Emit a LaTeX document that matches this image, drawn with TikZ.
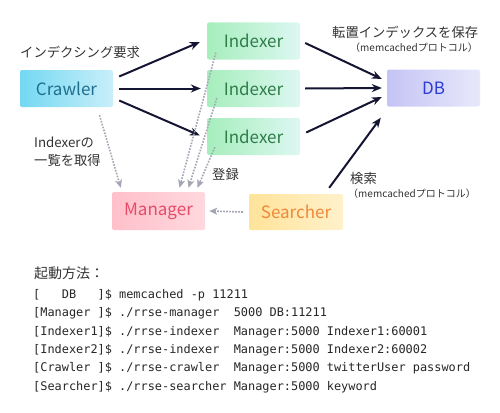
\documentclass[tikz,border=0pt]{standalone}
\usepackage{fontspec}
\setmainfont{Noto Sans CJK JP}
\setmonofont{DejaVu Sans Mono}
\usetikzlibrary{arrows.meta,calc}
\definecolor{arrowdark}{HTML}{141433}
\definecolor{dotgray}{HTML}{A4A6B4}
\definecolor{crL}{HTML}{74D8F2}\definecolor{crR}{HTML}{C8EFF9}\definecolor{crT}{HTML}{1F6F8F}
\definecolor{ixL}{HTML}{A6EEBC}\definecolor{ixR}{HTML}{DDF7F2}\definecolor{ixT}{HTML}{2E7D4A}
\definecolor{dbL}{HTML}{C4C4F6}\definecolor{dbR}{HTML}{E8E8FB}\definecolor{dbT}{HTML}{2B3BD9}
\definecolor{mgL}{HTML}{FFC0CA}\definecolor{mgR}{HTML}{FFD8DE}\definecolor{mgT}{HTML}{E84A67}
\definecolor{seL}{HTML}{FFE39A}\definecolor{seR}{HTML}{FFF1CB}\definecolor{seT}{HTML}{F0883A}
\tikzset{
  box/.style={minimum width=93pt,minimum height=37pt,rounded corners=2pt,inner sep=0pt,font=\fontsize{17}{17}\selectfont},
  crawlerbox/.style={box,left color=crL,right color=crR,text=crT},
  indexerbox/.style={box,left color=ixL,right color=ixR,text=ixT},
  dbbox/.style={box,left color=dbL,right color=dbR,text=dbT},
  managerbox/.style={box,left color=mgL,right color=mgR,text=mgT},
  searcherbox/.style={box,left color=seL,right color=seR,text=seT},
  arr/.style={draw=arrowdark,line width=2pt,-{Stealth[length=10pt,width=8pt]}},
  dotarr/.style={draw=dotgray,line width=1.6pt,dash pattern=on 1.6pt off 1.4pt,-{Stealth[length=8pt,width=7pt,inset=2pt]}},
  lbl/.style={inner sep=0pt,anchor=west,font=\fontsize{13.3}{13.3}\selectfont,text=black!80},
  sublbl/.style={inner sep=0pt,anchor=west,font=\fontsize{10}{10}\selectfont,text=black!80},
  code/.style={inner sep=0pt,anchor=west,font=\ttfamily\fontsize{11.9}{11.9}\selectfont,text=black!85},
}
\begin{document}
\begin{tikzpicture}[x=1pt,y=-1pt]
\useasboundingbox (0,0) rectangle (500,412);
% boxes
\node[crawlerbox] (crawler) at (66.5,88.5) {Crawler};
\node[indexerbox] (idx1) at (253.5,41) {Indexer};
\node[indexerbox] (idx2) at (253.5,88.5) {Indexer};
\node[indexerbox] (idx3) at (253.5,136.5) {Indexer};
\node[dbbox] (db) at (433.5,88) {DB};
\node[managerbox,minimum height=38pt] (mgr) at (158.5,211) {Manager};
\node[searcherbox,minimum width=94pt,minimum height=36pt] (srch) at (296,212) {Searcher};
% solid arrows
\draw[arr] ($(crawler.east)+(6,-12)$) -- ($(idx1.west)+(-7,1)$);
\draw[arr] ($(crawler.east)+(6,0)$) -- ($(idx2.west)+(-6,0)$);
\draw[arr] ($(crawler.east)+(6,12)$) -- ($(idx3.west)+(-7,-1)$);
\draw[arr] ($(idx1.east)+(5,2)$) -- ($(db.west)+(-5,-9)$);
\draw[arr] ($(idx2.east)+(5,0)$) -- ($(db.west)+(-5,0)$);
\draw[arr] ($(idx3.east)+(6,-4)$) -- ($(db.west)+(-5,9)$);
\draw[arr] ($(srch.north east)+(-14,-6)$) -- ($(db.south west)+(-6,11)$);
% dotted arrows
\draw[dotarr] ($(crawler.south)+(33,8)$) -- ($(mgr.north west)+(9,-4)$);
\draw[dotarr] ($(idx1.south west)+(9,-7)$) -- ($(mgr.north)+(21,-4)$);
\draw[dotarr] ($(idx2.south west)+(10,-9)$) -- ($(mgr.north)+(30,-4)$);
\draw[dotarr] ($(idx3.south west)+(8,-8)$) -- ($(mgr.north)+(39,-4)$);
\draw[dotarr] ($(srch.west)+(-6,0)$) -- ($(mgr.east)+(4,0)$);
% labels
\node[lbl] (l1) at (20,52) {インデクシング要求};
\node[lbl] (l2) at (332,32) {転置インデックスを保存};
\node[sublbl] (l3) at (350,48) {（memcachedプロトコル）};
\node[lbl] (l4) at (34,142) {Indexerの};
\node[lbl] (l5) at (34,160) {一覧を取得};
\node[lbl] (l6) at (212,174) {登録};
\node[lbl] (l7) at (350,178) {検索};
\node[sublbl] (l8) at (348,194) {（memcachedプロトコル）};
% launch instructions
\node[lbl,font=\fontsize{14}{14}\selectfont] (h) at (34,273) {起動方法：};
\node[code] (c1) at (33,295) {[\ \ \ DB\ \ \ ]\$ memcached -p 11211};
\node[code] (c2) at (33,313.5) {[Manager\ ]\$ ./rrse-manager\ \ 5000 DB:11211};
\node[code] (c3) at (33,332) {[Indexer1]\$ ./rrse-indexer\ \ Manager:5000 Indexer1:60001};
\node[code] (c4) at (33,350) {[Indexer2]\$ ./rrse-indexer\ \ Manager:5000 Indexer2:60002};
\node[code] (c5) at (33,368.5) {[Crawler\ ]\$ ./rrse-crawler\ \ Manager:5000 twitterUser password};
\node[code] (c6) at (33,387) {[Searcher]\$ ./rrse-searcher Manager:5000 keyword};
\end{tikzpicture}
\end{document}
